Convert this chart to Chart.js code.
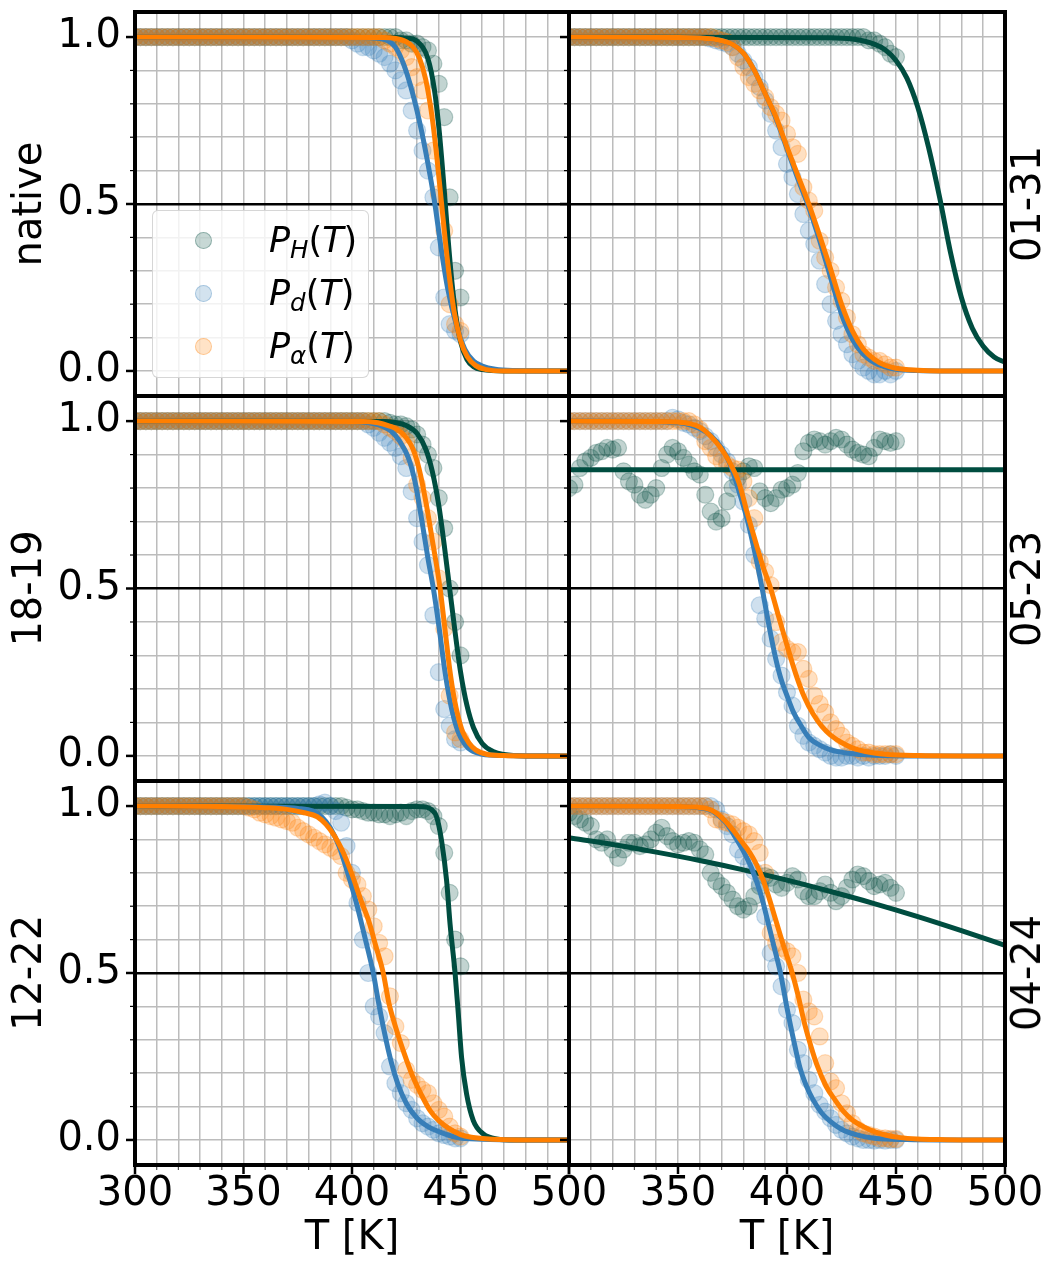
<!DOCTYPE html>
<html>
<head>
<meta charset="utf-8">
<script src="https://cdn.jsdelivr.net/npm/chart.js@4.4.0/dist/chart.umd.min.js"></script>
<style>
  body { margin: 0; background: #fff; }
  #wrap { position: relative; width: 1054px; height: 1268px; font-family: 'DejaVu Sans', sans-serif; }
  #wrap canvas { position: absolute; left: 0; top: 0; }
  .rlab { position: absolute; font-size: 40px; line-height: 1; white-space: nowrap;
          transform: translate(-50%, -50%) rotate(-90deg); color: #000; }
  .legend { position: absolute; left: 152px; top: 210px; width: 217px; height: 168px;
            background: rgba(255,255,255,0.8); border: 1px solid rgba(204,204,204,0.8);
            border-radius: 6px; box-sizing: border-box; }
  .legend .mk { position: absolute; width: 17px; height: 17px; border-radius: 50%; box-sizing: border-box; }
  .legend .tx { position: absolute; font-size: 35px; line-height: 35px; white-space: nowrap; color: #000; }
  .legend sub { font-size: 0.7em; vertical-align: -0.25em; line-height: 0; }
</style>
</head>
<body>
<div id="wrap"></div>
<script>
// temperatures of the measured points (K)
const sampleT = [
  300, 302.5, 305, 307.5, 310, 312.5, 315, 317.5, 320, 322.5,
  325, 327.5, 330, 332.5, 335, 337.5, 340, 342.5, 345, 347.5,
  350, 352.5, 355, 357.5, 360, 362.5, 365, 367.5, 370, 372.5,
  375, 377.5, 380, 382.5, 385, 387.5, 390, 392.5, 395, 397.5,
  400, 402.5, 405, 407.5, 410, 412.5, 415, 417.5, 420, 422.5,
  425, 427.5, 430, 432.5, 435, 437.5, 440, 442.5, 445, 447.5,
  450
];

const xTicks = [300, 310, 320, 330, 340, 350, 360, 370, 380, 390, 400, 410, 420, 430, 440, 450, 460, 470, 480, 490, 500];
const xLabelsLeft = [300, 350, 400, 450, 500];
const xLabelsRight = [350, 400, 450, 500];
const yTicks = [0, 0.1, 0.2, 0.3, 0.4, 0.5, 0.6, 0.7, 0.8, 0.9, 1.0];
const yLabels = [0, 0.5, 1.0];

// ---- native ----
const nativePH = [
  1, 1, 1, 1, 1, 1, 1, 1, 1, 1,
  1, 1, 1, 1, 1, 1, 1, 1, 1, 1,
  1, 1, 1, 1, 1, 1, 1, 1, 1, 1,
  1, 1, 1, 1, 1, 1, 1, 1, 1, 1,
  1, 1, 1, 1, 1, 1, 1, 1, 1, 0.99,
  0.99, 0.98, 0.98, 0.97, 0.96, 0.92, 0.86, 0.76, 0.52, 0.30,
  0.22
];
const nativePd = [
  1, 1, 1, 1, 1, 1, 1, 1, 1, 1,
  1, 1, 1, 1, 1, 1, 1, 1, 1, 1,
  1, 1, 1, 1, 1, 1, 1, 1, 1, 1,
  1, 1, 1, 1, 1, 1, 1, 1, 1, 1,
  0.99, 0.98, 0.97, 0.97, 0.96, 0.95, 0.94, 0.92, 0.90, 0.87,
  0.84, 0.78, 0.72, 0.66, 0.60, 0.52, 0.37, 0.22, 0.14, 0.12,
  0.11
];
const nativePa = [
  1, 1, 1, 1, 1, 1, 1, 1, 1, 1,
  1, 1, 1, 1, 1, 1, 1, 1, 1, 1,
  1, 1, 1, 1, 1, 1, 1, 1, 1, 1,
  1, 1, 1, 1, 1, 1, 1, 1, 1, 1,
  1, 1, 1, 1, 1, 1, 0.99, 0.98, 0.97, 0.96,
  0.94, 0.91, 0.88, 0.84, 0.78, 0.66, 0.53, 0.42, 0.20, 0.14,
  0.12
];
const nativeFitH = [[300, 1], [420, 0.999], [425, 0.997], [430, 0.987], [435, 0.935], [438, 0.841], [440, 0.731], [442, 0.583], [443, 0.5], [444, 0.417], [446, 0.269], [448, 0.159], [450, 0.088], [453, 0.034], [456, 0.013], [460, 0.004], [470, 0], [500, 0]];
const nativeFitD = [[300, 1], [405, 0.999], [412, 0.996], [416, 0.99], [420, 0.97], [424, 0.915], [428, 0.83], [432, 0.72], [436, 0.585], [438.2, 0.5], [441, 0.37], [444, 0.25], [448, 0.14], [452, 0.065], [456, 0.03], [460, 0.015], [466, 0.005], [475, 0.001], [490, 0], [500, 0]];
const nativeFitA = [[300, 1], [415, 0.999], [420, 0.996], [425, 0.986], [428, 0.971], [431, 0.938], [434, 0.872], [437, 0.756], [439, 0.646], [441.3, 0.5], [443, 0.39], [445, 0.275], [447, 0.18], [450, 0.092], [453, 0.044], [457, 0.016], [462, 0.004], [470, 0], [500, 0]];

// ---- 01-31 ----
const m0131PH = [
  1, 1, 1, 1, 1, 1, 1, 1, 1, 1,
  1, 1, 1, 1, 1, 1, 1, 1, 1, 1,
  1, 1, 1, 1, 1, 1, 1, 1, 1, 1,
  1, 1, 1, 1, 1, 1, 1, 1, 1, 1,
  1, 1, 1, 1, 1, 1, 1, 1, 1, 1,
  1, 1, 1, 1, 1, 0.99, 0.99, 0.98, 0.97, 0.95,
  0.94
];
const m0131Pd = [
  1, 1, 1, 1, 1, 1, 1, 1, 1, 1,
  1, 1, 1, 1, 1, 1, 1, 1, 1, 1,
  1, 1, 1, 1, 1, 1, 0.995, 0.99, 0.985, 0.98,
  0.97, 0.95, 0.93, 0.91, 0.88, 0.85, 0.81, 0.77, 0.72, 0.67,
  0.62, 0.58, 0.53, 0.47, 0.42, 0.38, 0.33, 0.26, 0.20, 0.15,
  0.11, 0.08, 0.05, 0.03, 0.01, 0.0, -0.01, -0.01, 0.0, -0.01,
  0.0
];
const m0131Pa = [
  1, 1, 1, 1, 1, 1, 1, 1, 1, 1,
  1, 1, 1, 1, 1, 1, 1, 1, 1, 1,
  1, 1, 1, 1, 1, 1, 1, 0.995, 0.99, 0.985,
  0.97, 0.94, 0.91, 0.88, 0.86, 0.84, 0.82, 0.79, 0.77, 0.75,
  0.71, 0.67, 0.65, 0.55, 0.51, 0.48, 0.39, 0.34, 0.30, 0.25,
  0.21, 0.16, 0.11, 0.08, 0.05, 0.04, 0.03, 0.03, 0.02, 0.01,
  0.01
];
const m0131FitH = [[300, 1], [420, 0.998], [430, 0.994], [440, 0.979], [445, 0.962], [450, 0.93], [455, 0.877], [460, 0.79], [465, 0.668], [470, 0.52], [475, 0.355], [480, 0.22], [485, 0.128], [490, 0.074], [495, 0.042], [500, 0.026]];
const m0131FitD = [[300, 1], [350, 0.999], [360, 0.997], [367, 0.993], [375, 0.978], [380, 0.952], [385, 0.9], [390, 0.83], [395, 0.755], [400, 0.665], [405, 0.575], [410, 0.49], [415, 0.39], [420, 0.28], [425, 0.17], [430, 0.095], [435, 0.05], [440, 0.025], [445, 0.012], [450, 0.005], [460, 0.001], [470, 0], [500, 0]];
const m0131FitA = [[300, 1], [350, 0.999], [360, 0.997], [367, 0.993], [375, 0.978], [380, 0.952], [385, 0.9], [390, 0.83], [395, 0.76], [400, 0.67], [405, 0.585], [410, 0.5], [415, 0.405], [420, 0.305], [425, 0.2], [430, 0.12], [435, 0.066], [440, 0.035], [445, 0.017], [450, 0.008], [460, 0.002], [470, 0], [500, 0]];

// ---- 18-19 ----
const m1819PH = [
  1, 1, 1, 1, 1, 1, 1, 1, 1, 1,
  1, 1, 1, 1, 1, 1, 1, 1, 1, 1,
  1, 1, 1, 1, 1, 1, 1, 1, 1, 1,
  1, 1, 1, 1, 1, 1, 1, 1, 1, 1,
  1, 1, 1, 1, 1, 1, 1, 0.995, 0.99, 0.99,
  0.985, 0.975, 0.96, 0.93, 0.90, 0.86, 0.77, 0.68, 0.50, 0.40,
  0.30
];
const m1819Pd = [
  1, 1, 1, 1, 1, 1, 1, 1, 1, 1,
  1, 1, 1, 1, 1, 1, 1, 1, 1, 1,
  1, 1, 1, 1, 1, 1, 1, 1, 1, 1,
  1, 1, 1, 1, 1, 1, 1, 1, 1, 1,
  1, 1, 1, 0.99, 0.98, 0.965, 0.95, 0.935, 0.92, 0.895,
  0.86, 0.79, 0.71, 0.64, 0.57, 0.42, 0.25, 0.14, 0.09, 0.05,
  0.04
];
const m1819Pa = [
  1, 1, 1, 1, 1, 1, 1, 1, 1, 1,
  1, 1, 1, 1, 1, 1, 1, 1, 1, 1,
  1, 1, 1, 1, 1, 1, 1, 1, 1, 1,
  1, 1, 1, 1, 1, 1, 1, 1, 1, 1,
  1, 1, 1, 1, 1, 1, 0.99, 0.98, 0.97, 0.955,
  0.94, 0.89, 0.81, 0.77, 0.71, 0.64, 0.53, 0.38, 0.18, 0.07,
  0.05
];
const m1819FitH = [[300, 1], [415, 0.999], [420, 0.996], [425, 0.987], [430, 0.963], [434, 0.916], [437, 0.85], [440, 0.748], [442.5, 0.63], [445, 0.5], [447.5, 0.37], [450, 0.252], [453, 0.15], [456, 0.084], [460, 0.037], [465, 0.013], [470, 0.004], [480, 0], [500, 0]];
const m1819FitD = [[300, 1], [400, 0.999], [408, 0.995], [414, 0.985], [418, 0.97], [422, 0.94], [426, 0.89], [429, 0.82], [432, 0.71], [435, 0.59], [437.5, 0.5], [440, 0.39], [443, 0.245], [446, 0.138], [449, 0.07], [452, 0.035], [455, 0.016], [460, 0.005], [470, 0.001], [480, 0], [500, 0]];
const m1819FitA = [[300, 1], [405, 0.999], [412, 0.995], [417, 0.986], [421, 0.975], [425, 0.95], [428, 0.918], [431, 0.855], [434, 0.76], [437, 0.645], [440.6, 0.5], [443, 0.37], [445, 0.26], [447, 0.175], [449, 0.115], [451, 0.072], [454, 0.038], [457, 0.018], [462, 0.005], [470, 0.001], [480, 0], [500, 0]];

// ---- 05-23 ----
const m0523PH = [
  0.80, 0.81, 0.86, 0.88, 0.89, 0.905, 0.91, 0.92, 0.915, 0.92,
  0.85, 0.82, 0.81, 0.78, 0.765, 0.78, 0.80, 0.86, 0.90, 0.92,
  0.91, 0.89, 0.87, 0.85, 0.84, 0.78, 0.73, 0.70, 0.71, 0.76,
  0.80, 0.83, 0.85, 0.865, 0.86, 0.79, 0.77, 0.755, 0.77, 0.795,
  0.80, 0.81, 0.845, 0.91, 0.935, 0.945, 0.94, 0.93, 0.94, 0.95,
  0.945, 0.93, 0.915, 0.905, 0.90, 0.895, 0.92, 0.945, 0.94, 0.935,
  0.94
];
const m0523Pd = [
  1, 1, 1, 1, 1, 1, 1, 1, 1, 1,
  1, 1, 1, 1, 1, 1, 1, 1, 1, 1.01,
  1.005, 0.995, 0.99, 0.98, 0.97, 0.955, 0.94, 0.92, 0.90, 0.88,
  0.85, 0.81, 0.76, 0.69, 0.60, 0.45, 0.41, 0.35, 0.29, 0.24,
  0.19, 0.15, 0.09, 0.06, 0.04, 0.03, 0.02, 0.01, 0.0, -0.005,
  -0.005, 0.0, 0.0, -0.005, 0.0, -0.005, 0.0, 0.0, 0.0, 0.005,
  0.0
];
const m0523Pa = [
  1, 1, 1, 1, 1, 1, 1, 1, 1, 1,
  1, 1, 1, 1, 1, 1, 1, 1, 1, 1,
  1, 1, 1, 0.99, 0.975, 0.94, 0.92, 0.895, 0.88, 0.87,
  0.86, 0.855, 0.82, 0.77, 0.71, 0.58, 0.55, 0.51, 0.40, 0.34,
  0.32, 0.31, 0.31, 0.26, 0.23, 0.18, 0.155, 0.13, 0.10, 0.08,
  0.06, 0.04, 0.03, 0.02, 0.01, 0.01, 0.005, 0.005, 0.005, 0.005,
  0.005
];
const m0523FitH = [[300, 0.855], [500, 0.855]];
const m0523FitD = [[300, 1], [340, 0.999], [350, 0.995], [355, 0.99], [360, 0.978], [365, 0.957], [370, 0.92], [374, 0.87], [378, 0.79], [382, 0.7], [385, 0.615], [388.6, 0.5], [391, 0.415], [394, 0.315], [397, 0.235], [400, 0.18], [403, 0.13], [406, 0.095], [410, 0.055], [415, 0.032], [420, 0.018], [428, 0.008], [440, 0.002], [460, 0], [500, 0]];
const m0523FitA = [[300, 1], [340, 0.999], [350, 0.997], [355, 0.993], [360, 0.982], [365, 0.955], [369, 0.925], [373, 0.885], [378, 0.815], [382, 0.72], [386, 0.63], [389, 0.565], [392.5, 0.5], [396, 0.42], [400, 0.33], [404, 0.245], [408, 0.175], [412, 0.125], [416, 0.088], [420, 0.062], [425, 0.04], [430, 0.024], [436, 0.013], [445, 0.005], [460, 0.001], [480, 0], [500, 0]];

// ---- 12-22 ----
const m1222PH = [
  1, 1, 1, 1, 1, 1, 1, 1, 1, 1,
  1, 1, 1, 1, 1, 1, 1, 1, 1, 1,
  1, 1, 1, 1, 1, 1, 1, 1, 1, 1,
  1, 1, 1, 1, 1, 1, 1, 1, 1, 0.995,
  0.99, 0.99, 0.985, 0.98, 0.98, 0.975, 0.975, 0.97, 0.975, 0.98,
  0.97, 0.985, 0.99, 0.99, 0.985, 0.97, 0.94, 0.86, 0.74, 0.60,
  0.52
];
const m1222Pd = [
  1, 1, 1, 1, 1, 1, 1, 1, 1, 1,
  1, 1, 1, 1, 1, 1, 1, 1, 1, 1,
  1, 1, 1, 1, 1, 1, 1, 1, 1, 1,
  1, 1, 1, 1, 1.005, 1.01, 1.0, 0.985, 0.95, 0.88,
  0.80, 0.71, 0.60, 0.50, 0.40, 0.37, 0.32, 0.22, 0.17, 0.14,
  0.11, 0.09, 0.065, 0.05, 0.04, 0.03, 0.02, 0.015, 0.01, 0.005,
  0.005
];
const m1222Pa = [
  1, 1, 1, 1, 1, 1, 1, 1, 1, 1,
  1, 1, 1, 1, 1, 1, 1, 1, 1, 1,
  1.0, 0.995, 0.99, 0.98, 0.975, 0.97, 0.965, 0.96, 0.955, 0.95,
  0.935, 0.925, 0.915, 0.905, 0.895, 0.885, 0.875, 0.865, 0.85, 0.80,
  0.78, 0.765, 0.73, 0.69, 0.64, 0.59, 0.55, 0.43, 0.34, 0.29,
  0.21, 0.18, 0.165, 0.15, 0.14, 0.11, 0.09, 0.07, 0.04, 0.02,
  0.01
];
const m1222FitH = [[300, 1], [430, 0.999], [434, 0.997], [436.5, 0.99], [439, 0.967], [441.3, 0.895], [443.6, 0.776], [445.2, 0.646], [447.5, 0.5], [449, 0.377], [450.5, 0.247], [452.8, 0.138], [455.9, 0.058], [460.5, 0.018], [466.7, 0.003], [475, 0], [500, 0]];
const m1222FitD = [[300, 1], [350, 0.999], [365, 0.997], [375, 0.993], [382, 0.985], [386, 0.968], [390, 0.935], [394, 0.88], [398, 0.8], [402, 0.71], [406, 0.605], [409.8, 0.5], [412, 0.42], [415, 0.32], [418, 0.235], [421, 0.17], [425, 0.11], [430, 0.065], [435, 0.04], [440, 0.025], [448, 0.008], [460, 0.002], [480, 0], [500, 0]];
const m1222FitA = [[300, 1], [340, 0.999], [360, 0.995], [370, 0.99], [378, 0.98], [384, 0.968], [388, 0.945], [392, 0.91], [396, 0.86], [400, 0.795], [404, 0.72], [408, 0.65], [411, 0.58], [414.4, 0.5], [417, 0.41], [420, 0.34], [424, 0.26], [428, 0.19], [432, 0.135], [436, 0.088], [440, 0.058], [445, 0.033], [450, 0.016], [455, 0.008], [465, 0.002], [480, 0], [500, 0]];

// ---- 04-24 ----
const m0424PH = [
  0.98, 0.97, 0.96, 0.95, 0.94, 0.90, 0.89, 0.90, 0.87, 0.845,
  0.87, 0.89, 0.89, 0.88, 0.885, 0.90, 0.92, 0.935, 0.91, 0.895,
  0.885, 0.89, 0.895, 0.89, 0.87, 0.855, 0.80, 0.775, 0.76, 0.74,
  0.72, 0.70, 0.69, 0.70, 0.73, 0.76, 0.79, 0.785, 0.765, 0.755,
  0.77, 0.79, 0.78, 0.745, 0.73, 0.73, 0.745, 0.765, 0.74, 0.715,
  0.73, 0.755, 0.78, 0.795, 0.79, 0.775, 0.76, 0.765, 0.77, 0.755,
  0.74
];
const m0424Pd = [
  1, 1, 1, 1, 1, 1, 1, 1, 1, 1,
  1, 1, 1, 1, 1, 1, 1, 1, 1, 1,
  1, 1, 1, 1, 1, 1, 1, 0.99, 0.96, 0.94,
  0.915, 0.87, 0.85, 0.825, 0.805, 0.77, 0.67, 0.56, 0.52, 0.46,
  0.39, 0.35, 0.27, 0.23, 0.18, 0.14, 0.105, 0.085, 0.065, 0.045,
  0.03, 0.02, 0.01, 0.005, 0.0, 0.0, -0.002, 0.0, -0.002, 0.0,
  0.0
];
const m0424Pa = [
  1, 1, 1, 1, 1, 1, 1, 1, 1, 1,
  1, 1, 1, 1, 1, 1, 1, 1, 1, 1,
  1, 1, 1, 1, 1, 1, 0.99, 0.96, 0.955, 0.95,
  0.945, 0.935, 0.925, 0.915, 0.895, 0.86, 0.80, 0.62, 0.59, 0.575,
  0.565, 0.55, 0.50, 0.42, 0.385, 0.37, 0.31, 0.23, 0.175, 0.155,
  0.11, 0.08, 0.05, 0.03, 0.02, 0.015, 0.01, 0.005, 0.005, 0.003,
  0.003
];
const m0424FitH = [[300, 0.905], [320, 0.885], [340, 0.862], [360, 0.837], [380, 0.809], [400, 0.778], [420, 0.744], [440, 0.708], [460, 0.669], [480, 0.627], [500, 0.583]];
const m0424FitD = [[300, 1], [350, 0.999], [358, 0.996], [364, 0.99], [368, 0.975], [372, 0.95], [376, 0.91], [380, 0.865], [384, 0.81], [388, 0.735], [391, 0.66], [394, 0.58], [397, 0.5], [400, 0.395], [403, 0.3], [406, 0.215], [409, 0.16], [412, 0.12], [416, 0.08], [420, 0.055], [425, 0.032], [432, 0.015], [440, 0.005], [455, 0.001], [470, 0], [500, 0]];
const m0424FitA = [[300, 1], [350, 0.999], [358, 0.997], [363, 0.993], [367, 0.982], [371, 0.96], [375, 0.93], [379, 0.895], [383, 0.86], [386, 0.825], [389, 0.78], [392, 0.72], [395, 0.655], [398, 0.59], [401, 0.53], [402.4, 0.5], [405, 0.435], [408, 0.35], [411, 0.28], [414, 0.22], [418, 0.16], [422, 0.12], [426, 0.085], [430, 0.06], [435, 0.04], [440, 0.025], [445, 0.015], [452, 0.007], [460, 0.003], [470, 0.001], [480, 0], [500, 0]];

const panels = [
  { name: 'native', row: 0, col: 0, pts: [nativePH, nativePd, nativePa], fits: [nativeFitH, nativeFitD, nativeFitA] },
  { name: '01-31',  row: 0, col: 1, pts: [m0131PH, m0131Pd, m0131Pa],   fits: [m0131FitH, m0131FitD, m0131FitA] },
  { name: '18-19',  row: 1, col: 0, pts: [m1819PH, m1819Pd, m1819Pa],   fits: [m1819FitH, m1819FitD, m1819FitA] },
  { name: '05-23',  row: 1, col: 1, pts: [m0523PH, m0523Pd, m0523Pa],   fits: [m0523FitH, m0523FitD, m0523FitA] },
  { name: '12-22',  row: 2, col: 0, pts: [m1222PH, m1222Pd, m1222Pa],   fits: [m1222FitH, m1222FitD, m1222FitA] },
  { name: '04-24',  row: 2, col: 1, pts: [m0424PH, m0424Pd, m0424Pa],   fits: [m0424FitH, m0424FitD, m0424FitA] }
];

// layout of the grid of panels (px)
const W = 1054, H = 1268;
const cols = [{ left: 135, right: 569 }, { left: 569, right: 1005 }];
const rows = [{ top: 12, bottom: 396 }, { top: 396, bottom: 781 }, { top: 781, bottom: 1165 }];
const rgbs = ['0,77,64', '55,126,184', '255,127,0'];   // H, d, alpha

Chart.defaults.font.family = "'DejaVu Sans', sans-serif";
Chart.defaults.color = '#000';

const near = (a, b) => Math.abs(a - b) < 1e-6;

// thick frame + tick marks round the plot area
const framePlugin = {
  id: 'frame',
  afterDatasetsDraw(chart, args, opts) {
    const { ctx, chartArea: a, scales } = chart;
    ctx.save();
    ctx.strokeStyle = '#000';
    yTicks.forEach(v => {
      const y = scales.y.getPixelForValue(v);
      const major = yLabels.some(m => near(m, v));
      ctx.lineWidth = major ? 2.5 : 1.2;
      ctx.beginPath();
      ctx.moveTo(a.left - (major ? 9 : 5), y);
      ctx.lineTo(a.left, y);
      ctx.stroke();
    });
    if (opts.bottom) {
      xTicks.forEach(v => {
        const x = scales.x.getPixelForValue(v);
        const major = v % 50 === 0;
        ctx.lineWidth = major ? 2.5 : 1.2;
        ctx.strokeStyle = major ? '#000' : '#555';
        ctx.beginPath();
        ctx.moveTo(x, a.bottom);
        ctx.lineTo(x, a.bottom + (major ? 9 : 5));
        ctx.stroke();
      });
    }
    ctx.strokeStyle = '#000';
    ctx.lineWidth = 4;
    ctx.strokeRect(a.left, a.top, a.right - a.left, a.bottom - a.top);
    ctx.restore();
  }
};

function scatterSet(vals, rgb, order) {
  return {
    data: sampleT.map((t, i) => ({ x: t, y: vals[i] })),
    showLine: false,
    pointRadius: 8.5,
    pointHoverRadius: 8.5,
    pointBackgroundColor: `rgba(${rgb},0.24)`,
    pointBorderColor: `rgba(${rgb},0.26)`,
    pointBorderWidth: 1.2,
    clip: 0,
    order
  };
}

function fitSet(knots, rgb, order) {
  return {
    data: knots.map(([t, p]) => ({ x: t, y: p })),
    showLine: true,
    borderColor: `rgb(${rgb})`,
    borderWidth: 5,
    pointRadius: 0,
    cubicInterpolationMode: 'monotone',
    fill: false,
    clip: 0,
    order
  };
}

const wrap = document.getElementById('wrap');

panels.forEach(p => {
  const col = cols[p.col], row = rows[p.row];
  const isLeft = p.col === 0, isBottom = p.row === 2;
  const canvas = document.createElement('canvas');
  canvas.width = W;
  canvas.height = H;
  wrap.appendChild(canvas);

  const datasets = [
    scatterSet(p.pts[0], rgbs[0], 5),
    scatterSet(p.pts[1], rgbs[1], 4),
    scatterSet(p.pts[2], rgbs[2], 3),
    fitSet(p.fits[0], rgbs[0], 2),
    fitSet(p.fits[1], rgbs[1], 1),
    fitSet(p.fits[2], rgbs[2], 0)
  ];

  const xLabels = isLeft ? xLabelsLeft : xLabelsRight;
  const tickFont = { size: 40 };

  new Chart(canvas, {
    type: 'line',
    data: { datasets },
    options: {
      responsive: false,
      animation: false,
      events: [],
      devicePixelRatio: 1,
      layout: {
        padding: {
          left: isLeft ? 0 : col.left,
          right: W - col.right,
          top: row.top,
          bottom: isBottom ? 0 : H - row.bottom
        }
      },
      plugins: {
        legend: { display: false },
        tooltip: { enabled: false },
        frame: { bottom: isBottom }
      },
      scales: {
        x: {
          type: 'linear',
          min: 300, max: 500,
          afterBuildTicks: s => { s.ticks = xTicks.map(v => ({ value: v })); },
          afterFit: s => {
            s.height = isBottom ? H - row.bottom : 0;
            s.paddingLeft = 0; s.paddingRight = 0; s.paddingTop = 0; s.paddingBottom = 0;
          },
          grid: { drawTicks: false, color: '#bcbcbc', lineWidth: 1.5 },
          border: { display: false },
          ticks: {
            display: isBottom,
            autoSkip: false,
            maxRotation: 0,
            padding: 6,
            font: tickFont,
            color: '#000',
            callback: v => xLabels.includes(v) ? String(v) : ''
          },
          title: {
            display: isBottom,
            text: 'T [K]',
            font: tickFont,
            color: '#000',
            padding: { top: 0, bottom: 5 }
          }
        },
        y: {
          type: 'linear',
          min: -0.075, max: 1.075,
          afterBuildTicks: s => { s.ticks = yTicks.map(v => ({ value: v })); },
          afterFit: s => {
            s.width = isLeft ? col.left : 0;
            s.paddingLeft = 0; s.paddingRight = 0; s.paddingTop = 0; s.paddingBottom = 0;
          },
          grid: {
            drawTicks: false,
            color: c => (c.tick && near(c.tick.value, 0.5)) ? '#000' : '#bcbcbc',
            lineWidth: c => (c.tick && near(c.tick.value, 0.5)) ? 2.5 : 1.5
          },
          border: { display: false },
          ticks: {
            display: isLeft,
            autoSkip: false,
            padding: 14,
            font: tickFont,
            color: '#000',
            callback: v => yLabels.some(m => near(m, v)) ? v.toFixed(1) : ''
          },
          title: {
            display: isLeft,
            text: p.name,
            font: tickFont,
            color: '#000',
            padding: { top: 7, bottom: 0 }
          }
        }
      }
    },
    plugins: [framePlugin]
  });

  if (!isLeft) {
    const lab = document.createElement('div');
    lab.className = 'rlab';
    lab.textContent = p.name;
    lab.style.left = '1026px';
    lab.style.top = ((row.top + row.bottom) / 2) + 'px';
    wrap.appendChild(lab);
  }
});

// legend of the first panel
const legendItems = [
  { html: '<i>P</i><sub><i>H</i></sub>(<i>T</i>)', rgb: rgbs[0], y: 239 },
  { html: '<i>P</i><sub><i>d</i></sub>(<i>T</i>)', rgb: rgbs[1], y: 292 },
  { html: '<i>P</i><sub><i>α</i></sub>(<i>T</i>)', rgb: rgbs[2], y: 345 }
];
const leg = document.createElement('div');
leg.className = 'legend';
wrap.appendChild(leg);
legendItems.forEach(it => {
  const mk = document.createElement('div');
  mk.className = 'mk';
  mk.style.left = (202 - 8.5 - 152) + 'px';
  mk.style.top = (it.y - 8.5 - 210) + 'px';
  mk.style.background = `rgba(${it.rgb},0.22)`;
  mk.style.border = `1.2px solid rgba(${it.rgb},0.3)`;
  leg.appendChild(mk);
  const tx = document.createElement('div');
  tx.className = 'tx';
  tx.innerHTML = it.html;
  tx.style.left = (268 - 152) + 'px';
  tx.style.top = (it.y - 17.5 - 210) + 'px';
  leg.appendChild(tx);
});
</script>
</body>
</html>
